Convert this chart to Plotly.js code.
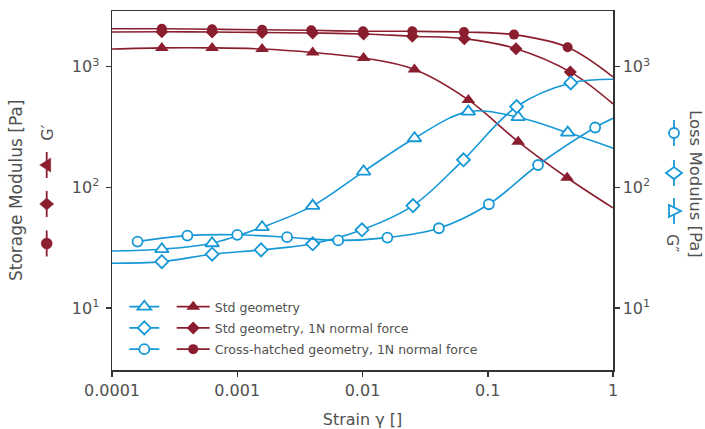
<!DOCTYPE html>
<html>
<head>
<meta charset="utf-8">
<script src="https://cdn.plot.ly/plotly-3.0.1.min.js"></script>
<style>html,body{margin:0;padding:0;background:#fff;}#chart{width:705px;height:429px;}</style>
</head>
<body>
<div id="chart"></div>
<script>
// ---------- data ----------
// Storage modulus G' [Pa] (filled, dark red, left axis)
const gpStdX  = [2.5e-4, 6.3e-4, 1.58e-3, 4.0e-3, 1.02e-2, 2.6e-2, 7.0e-2, 0.175, 0.43];
const gpStdY  = [1430, 1430, 1400, 1310, 1180, 948, 530, 239, 120];
const gpStdEnds = [1400, 67.5];          // fitted curve at strain 1e-4 and 1

const gp1NX   = [2.5e-4, 6.3e-4, 1.58e-3, 4.0e-3, 1.02e-2, 2.5e-2, 6.5e-2, 0.168, 0.456];
const gp1NY   = [1945, 1935, 1920, 1900, 1866, 1786, 1706, 1409, 904];
const gp1NEnds = [1935, 491];

const gpXhX   = [2.5e-4, 6.3e-4, 1.58e-3, 3.9e-3, 1.01e-2, 2.5e-2, 6.46e-2, 0.162, 0.434];
const gpXhY   = [2060, 2040, 2020, 2000, 1963, 1963, 1935, 1842, 1448];
const gpXhEnds = [2060, 822];

// Loss modulus G'' [Pa] (open, blue, right axis)
const gppStdX = [2.5e-4, 6.3e-4, 1.58e-3, 4.0e-3, 1.02e-2, 2.6e-2, 7.0e-2, 0.175, 0.435];
const gppStdY = [30.7, 34.4, 46.7, 70.2, 135, 255, 424, 381, 284];
const gppStdEnds = [29.7, 211];

const gpp1NX  = [2.5e-4, 6.3e-4, 1.55e-3, 4.0e-3, 9.9e-3, 2.53e-2, 6.4e-2, 0.17, 0.46];
const gpp1NY  = [24.2, 27.9, 30.3, 34.0, 44.4, 70.5, 169, 467, 733];
const gpp1NEnds = [23.5, 787];

const gppXhX  = [1.6e-4, 4.0e-4, 1.0e-3, 2.5e-3, 6.4e-3, 1.58e-2, 4.07e-2, 0.102, 0.252, 0.72];
const gppXhY  = [35.5, 39.8, 40.4, 38.6, 36.3, 38.3, 45.8, 72.4, 153, 313];
const gppXhEnds = [null, 373];

const seriesNames = ['Std geometry', 'Std geometry, 1N normal force', 'Cross-hatched geometry, 1N normal force'];

const xRange = [1e-4, 1];
const xTickVals = [1e-4, 1e-3, 1e-2, 0.1, 1];
const xTickText = ['0.0001', '0.001', '0.01', '0.1', '1'];
const yTickVals = [10, 100, 1000];
const yTickText = ['10<sup>1</sup>', '10<sup>2</sup>', '10<sup>3</sup>'];
const yRangeLog = [0.486, 3.461];

// ---------- styling ----------
const RED = '#8b1e2e';
const BLUE = '#1798d6';
const TXT = '#505050';
const AX = '#333333';
const FONT = 'DejaVu Sans, sans-serif';

// one trace per series: the fitted curve runs to the plot edges,
// markers are shown only at the measured points (others unselected → hidden)
function series(mx, my, ends, opts) {
  const x = [], y = [], sel = [];
  if (ends[0] !== null) { x.push(xRange[0]); y.push(ends[0]); }
  for (let i = 0; i < mx.length; i++) { sel.push(x.length); x.push(mx[i]); y.push(my[i]); }
  if (ends[1] !== null) { x.push(xRange[1]); y.push(ends[1]); }
  return {
    type: 'scatter', mode: 'lines+markers', x: x, y: y,
    name: opts.name, legend: opts.legend, legendgroup: opts.group,
    yaxis: opts.yaxis, cliponaxis: true,
    selectedpoints: sel,
    selected: {marker: {opacity: 1}},
    unselected: {marker: {opacity: 0}},
    line: {color: opts.color, width: 1.6, shape: 'spline', smoothing: 1},
    marker: {symbol: opts.symbol, size: opts.size, color: opts.fill, opacity: 1,
             line: {color: opts.color, width: opts.open ? 1.8 : 0}}
  };
}

const traces = [
  series(gppStdX, gppStdY, gppStdEnds, {name: ' ', legend: 'legend2', group: 'a2', yaxis: 'y2', color: BLUE, fill: 'white', open: true, symbol: 'triangle-up', size: 12}),
  series(gpp1NX, gpp1NY, gpp1NEnds, {name: ' ', legend: 'legend2', group: 'b2', yaxis: 'y2', color: BLUE, fill: 'white', open: true, symbol: 'diamond', size: 10}),
  series(gppXhX, gppXhY, gppXhEnds, {name: ' ', legend: 'legend2', group: 'c2', yaxis: 'y2', color: BLUE, fill: 'white', open: true, symbol: 'circle', size: 10}),
  series(gpStdX, gpStdY, gpStdEnds, {name: seriesNames[0], legend: 'legend', group: 'a', yaxis: 'y', color: RED, fill: RED, open: false, symbol: 'triangle-up', size: 12}),
  series(gp1NX, gp1NY, gp1NEnds, {name: seriesNames[1], legend: 'legend', group: 'b', yaxis: 'y', color: RED, fill: RED, open: false, symbol: 'diamond', size: 10}),
  series(gpXhX, gpXhY, gpXhEnds, {name: seriesNames[2], legend: 'legend', group: 'c', yaxis: 'y', color: RED, fill: RED, open: false, symbol: 'circle', size: 10})
];

// geometry helpers for side "legends" (paper coordinates)
const L = 112, R = 92, T = 11, B = 59, W = 705, H = 429;
const PW = W - L - R, PH = H - T - B;
const px = v => (v - L) / PW;
const py = v => (H - B - v) / PH;

function seg(xp, yp, color) {
  return {type: 'line', xref: 'paper', yref: 'paper', xsizemode: 'pixel', ysizemode: 'pixel',
          xanchor: px(xp), yanchor: py(yp), x0: 0, x1: 0, y0: -13, y1: 13,
          line: {color: color, width: 1.8}, layer: 'above'};
}
function sym(xp, yp, path, color, fill) {
  return {type: 'path', xref: 'paper', yref: 'paper', xsizemode: 'pixel', ysizemode: 'pixel',
          xanchor: px(xp), yanchor: py(yp), path: path, fillcolor: fill,
          line: {color: color, width: fill === 'white' ? 1.8 : 0.5}, layer: 'above'};
}
function circ(xp, yp, r, color, fill) {
  return {type: 'circle', xref: 'paper', yref: 'paper', xsizemode: 'pixel', ysizemode: 'pixel',
          xanchor: px(xp), yanchor: py(yp), x0: -r, x1: r, y0: -r, y1: r, fillcolor: fill,
          line: {color: color, width: fill === 'white' ? 1.8 : 0.5}, layer: 'above'};
}

const shapes = [
  seg(46.7, 165, RED), seg(46.7, 204, RED), seg(46.7, 243.5, RED),
  sym(46.7, 165, 'M-7,0 L4,7 L4,-7 Z', RED, RED),
  sym(46.7, 204, 'M-7,0 L0,6 L7,0 L0,-6 Z', RED, RED),
  circ(46.7, 243.5, 5.5, RED, RED),
  seg(674, 133, BLUE), seg(674, 173, BLUE), seg(674, 211, BLUE),
  circ(674, 133, 5, BLUE, 'white'),
  sym(674, 173, 'M-8,0 L0,6 L8,0 L0,-6 Z', BLUE, 'white'),
  sym(674, 211, 'M-5,-6 L7,0 L-5,6 Z', BLUE, 'white')
];

const annotations = [
  {text: 'Storage Modulus [Pa]', xref: 'paper', yref: 'paper', x: px(16), y: py(191), textangle: -90,
   showarrow: false, xanchor: 'center', yanchor: 'middle', font: {size: 17, color: TXT, family: FONT}},
  {text: 'G′', xref: 'paper', yref: 'paper', x: px(46.7), y: py(133), textangle: -90,
   showarrow: false, xanchor: 'center', yanchor: 'middle', font: {size: 16, color: TXT, family: FONT}},
  {text: 'Loss Modulus [Pa]', xref: 'paper', yref: 'paper', x: px(696), y: py(184), textangle: 90,
   showarrow: false, xanchor: 'center', yanchor: 'middle', font: {size: 16.5, color: TXT, family: FONT}},
  {text: 'G″', xref: 'paper', yref: 'paper', x: px(673), y: py(243), textangle: 90,
   showarrow: false, xanchor: 'center', yanchor: 'middle', font: {size: 16, color: TXT, family: FONT}}
];

const yAxisBase = {
  type: 'log', range: yRangeLog, tickvals: yTickVals, ticktext: yTickText,
  ticks: 'outside', ticklen: 5, tickwidth: 1.5, tickcolor: AX,
  showline: true, linecolor: AX, linewidth: 1.5, showgrid: false, zeroline: false,
  tickfont: {size: 16, color: TXT}
};

const legendBase = {xanchor: 'left', yanchor: 'top', bgcolor: 'rgba(0,0,0,0)',
  borderwidth: 0, font: {size: 12.5, color: TXT},
  tracegroupgap: 2, traceorder: 'grouped'};

const layout = {
  width: W, height: H,
  margin: {l: L, r: R, t: T, b: B, pad: 0},
  paper_bgcolor: 'white', plot_bgcolor: 'white',
  font: {family: FONT, color: TXT, size: 15},
  showlegend: true,
  xaxis: {
    type: 'log', range: [Math.log10(xRange[0]), Math.log10(xRange[1])],
    tickvals: xTickVals, ticktext: xTickText,
    ticks: 'outside', ticklen: 5, tickwidth: 1.5, tickcolor: AX,
    showline: true, linecolor: AX, linewidth: 1.5, mirror: true,
    showgrid: false, zeroline: false, tickfont: {size: 16, color: TXT},
    title: {text: 'Strain γ []', font: {size: 16, color: TXT}}
  },
  yaxis: Object.assign({}, yAxisBase, {side: 'left', ticklabelstandoff: 3}),
  yaxis2: Object.assign({}, yAxisBase, {side: 'right', overlaying: 'y'}),
  legend: Object.assign({}, legendBase, {x: px(171.7), y: py(292), itemwidth: 33}),
  legend2: Object.assign({}, legendBase, {x: px(124.3), y: py(292)}),
  shapes: shapes,
  annotations: annotations
};

Plotly.newPlot('chart', traces, layout, {displayModeBar: false, staticPlot: true});
</script>
</body>
</html>
